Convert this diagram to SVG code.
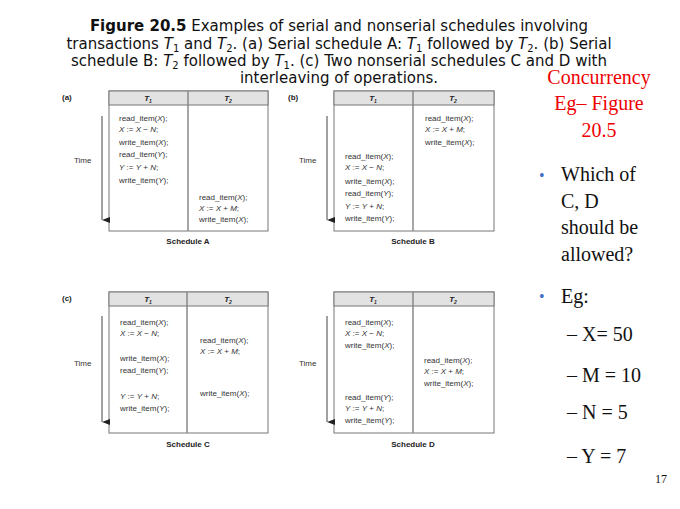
<svg xmlns="http://www.w3.org/2000/svg" width="680" height="509" viewBox="0 0 680 509">
<defs><marker id="ah" viewBox="0 0 6 8" refX="3" refY="8" markerWidth="6" markerHeight="8" orient="auto-start-reverse" markerUnits="userSpaceOnUse"><path d="M0,0 L6,0 L3,8 Z" fill="#222"/></marker></defs>
<style>
.t{font-family:"DejaVu Sans",sans-serif;font-size:15px;fill:#111}
.s{font-family:"Liberation Sans",Arial,sans-serif;font-size:8px;fill:#333}
.h{font-family:"Liberation Sans",Arial,sans-serif;font-size:8px;font-style:italic;font-weight:bold;fill:#222}
.lb{font-family:"Liberation Sans",Arial,sans-serif;font-size:8px;font-weight:bold;fill:#222}
.tb{fill:#fff;stroke:#777;stroke-width:1}
.hd{fill:#e2e2e2;stroke:#777;stroke-width:1}
.d{stroke:#888;stroke-width:1.5}
.r{font-family:"Liberation Serif",serif;font-size:20px;fill:#e00}
.b{font-family:"Liberation Serif",serif;font-size:20px;fill:#111}
</style>
<rect width="680" height="509" fill="#fff"/>
<g id="title" class="t" text-anchor="middle">
<text x="339" y="31"><tspan font-weight="bold">Figure 20.5</tspan>   Examples of serial and nonserial schedules involving</text>
<text x="339" y="49">transactions <tspan font-style="italic">T</tspan><tspan font-size="10" dy="3">1</tspan><tspan dy="-3"> and </tspan><tspan font-style="italic">T</tspan><tspan font-size="10" dy="3">2</tspan><tspan dy="-3">. (a) Serial schedule A: </tspan><tspan font-style="italic">T</tspan><tspan font-size="10" dy="3">1</tspan><tspan dy="-3"> followed by </tspan><tspan font-style="italic">T</tspan><tspan font-size="10" dy="3">2</tspan><tspan dy="-3">. (b) Serial</tspan></text>
<text x="339" y="66">schedule B: <tspan font-style="italic">T</tspan><tspan font-size="10" dy="3">2</tspan><tspan dy="-3"> followed by </tspan><tspan font-style="italic">T</tspan><tspan font-size="10" dy="3">1</tspan><tspan dy="-3">. (c) Two nonserial schedules C and D with</tspan></text>
<text x="339" y="83">interleaving of operations.</text>
</g>
<g id="scheduleA">
<text class="lb" x="62" y="100">(a)</text>
<rect class="tb" x="109" y="91" width="159" height="140"/><rect class="hd" x="109" y="91" width="159" height="14"/>
<line class="d" x1="188" y1="91" x2="188" y2="231"/>
<text class="h" x="148" y="101" text-anchor="middle">T<tspan font-size="5" dy="1.5">1</tspan></text><text class="h" x="228" y="101" text-anchor="middle">T<tspan font-size="5" dy="1.5">2</tspan></text>
<line x1="102" y1="116" x2="102" y2="220" stroke="#444" marker-end="url(#ah)"/>
<text class="s" x="74" y="163">Time</text>
<g class="s"><text x="119" y="121">read_item(<tspan font-style="italic">X</tspan>);</text><text x="119" y="132"><tspan font-style="italic">X</tspan> := <tspan font-style="italic">X</tspan> − <tspan font-style="italic">N</tspan>;</text><text x="119" y="145">write_item(<tspan font-style="italic">X</tspan>);</text><text x="119" y="157">read_item(<tspan font-style="italic">Y</tspan>);</text><text x="119" y="170"><tspan font-style="italic">Y</tspan> := <tspan font-style="italic">Y</tspan> + <tspan font-style="italic">N</tspan>;</text><text x="119" y="183">write_item(<tspan font-style="italic">Y</tspan>);</text>
<text x="199" y="200">read_item(<tspan font-style="italic">X</tspan>);</text><text x="199" y="211"><tspan font-style="italic">X</tspan> := <tspan font-style="italic">X</tspan> + <tspan font-style="italic">M</tspan>;</text><text x="199" y="222">write_item(<tspan font-style="italic">X</tspan>);</text></g>
<text class="lb" x="188" y="244" text-anchor="middle">Schedule A</text>
</g>
<g id="scheduleB">
<text class="lb" x="288" y="100">(b)</text>
<rect class="tb" x="334" y="91" width="160" height="140"/><rect class="hd" x="334" y="91" width="160" height="14"/>
<line class="d" x1="413" y1="91" x2="413" y2="231"/>
<text class="h" x="373" y="101" text-anchor="middle">T<tspan font-size="5" dy="1.5">1</tspan></text><text class="h" x="453" y="101" text-anchor="middle">T<tspan font-size="5" dy="1.5">2</tspan></text>
<line x1="327" y1="116" x2="327" y2="220" stroke="#444" marker-end="url(#ah)"/>
<text class="s" x="299" y="163">Time</text>
<g class="s"><text x="425" y="121">read_item(<tspan font-style="italic">X</tspan>);</text><text x="425" y="132"><tspan font-style="italic">X</tspan> := <tspan font-style="italic">X</tspan> + <tspan font-style="italic">M</tspan>;</text><text x="425" y="145">write_item(<tspan font-style="italic">X</tspan>);</text>
<text x="345" y="159">read_item(<tspan font-style="italic">X</tspan>);</text><text x="345" y="170"><tspan font-style="italic">X</tspan> := <tspan font-style="italic">X</tspan> − <tspan font-style="italic">N</tspan>;</text><text x="345" y="184">write_item(<tspan font-style="italic">X</tspan>);</text><text x="345" y="196">read_item(<tspan font-style="italic">Y</tspan>);</text><text x="345" y="209"><tspan font-style="italic">Y</tspan> := <tspan font-style="italic">Y</tspan> + <tspan font-style="italic">N</tspan>;</text><text x="345" y="221">write_item(<tspan font-style="italic">Y</tspan>);</text></g>
<text class="lb" x="413" y="244" text-anchor="middle">Schedule B</text>
</g>
<g id="scheduleC">
<text class="lb" x="62" y="301">(c)</text>
<rect class="tb" x="109" y="292" width="159" height="141"/><rect class="hd" x="109" y="292" width="159" height="14"/>
<line class="d" x1="187" y1="292" x2="187" y2="433"/>
<text class="h" x="148" y="302" text-anchor="middle">T<tspan font-size="5" dy="1.5">1</tspan></text><text class="h" x="228" y="302" text-anchor="middle">T<tspan font-size="5" dy="1.5">2</tspan></text>
<line x1="102" y1="316" x2="102" y2="422" stroke="#444" marker-end="url(#ah)"/>
<text class="s" x="74" y="366">Time</text>
<g class="s"><text x="120" y="325">read_item(<tspan font-style="italic">X</tspan>);</text><text x="120" y="336"><tspan font-style="italic">X</tspan> := <tspan font-style="italic">X</tspan> − <tspan font-style="italic">N</tspan>;</text><text x="120" y="361">write_item(<tspan font-style="italic">X</tspan>);</text><text x="120" y="373">read_item(<tspan font-style="italic">Y</tspan>);</text><text x="120" y="399"><tspan font-style="italic">Y</tspan> := <tspan font-style="italic">Y</tspan> + <tspan font-style="italic">N</tspan>;</text><text x="120" y="411">write_item(<tspan font-style="italic">Y</tspan>);</text>
<text x="200" y="343">read_item(<tspan font-style="italic">X</tspan>);</text><text x="200" y="354"><tspan font-style="italic">X</tspan> := <tspan font-style="italic">X</tspan> + <tspan font-style="italic">M</tspan>;</text><text x="200" y="396">write_item(<tspan font-style="italic">X</tspan>);</text></g>
<text class="lb" x="188" y="447" text-anchor="middle">Schedule C</text>
</g>
<g id="scheduleD">
<rect class="tb" x="334" y="292" width="160" height="141"/><rect class="hd" x="334" y="292" width="160" height="14"/>
<line class="d" x1="413" y1="292" x2="413" y2="433"/>
<text class="h" x="373" y="302" text-anchor="middle">T<tspan font-size="5" dy="1.5">1</tspan></text><text class="h" x="453" y="302" text-anchor="middle">T<tspan font-size="5" dy="1.5">2</tspan></text>
<line x1="327" y1="316" x2="327" y2="422" stroke="#444" marker-end="url(#ah)"/>
<text class="s" x="299" y="366">Time</text>
<g class="s"><text x="345" y="325">read_item(<tspan font-style="italic">X</tspan>);</text><text x="345" y="336"><tspan font-style="italic">X</tspan> := <tspan font-style="italic">X</tspan> − <tspan font-style="italic">N</tspan>;</text><text x="345" y="348">write_item(<tspan font-style="italic">X</tspan>);</text>
<text x="424" y="363">read_item(<tspan font-style="italic">X</tspan>);</text><text x="424" y="374"><tspan font-style="italic">X</tspan> := <tspan font-style="italic">X</tspan> + <tspan font-style="italic">M</tspan>;</text><text x="424" y="386">write_item(<tspan font-style="italic">X</tspan>);</text>
<text x="345" y="400">read_item(<tspan font-style="italic">Y</tspan>);</text><text x="345" y="411"><tspan font-style="italic">Y</tspan> := <tspan font-style="italic">Y</tspan> + <tspan font-style="italic">N</tspan>;</text><text x="345" y="423">write_item(<tspan font-style="italic">Y</tspan>);</text></g>
<text class="lb" x="413" y="447" text-anchor="middle">Schedule D</text>
</g>
<g id="side">
<g class="r" text-anchor="middle"><text x="599" y="84">Concurrency</text><text x="599" y="110">Eg– Figure</text><text x="599" y="137">20.5</text></g>
<g class="b"><text x="539" y="181" fill="#4472c4" font-size="16">•</text><text x="561" y="181">Which of</text><text x="561" y="208">C, D</text><text x="561" y="234">should be</text><text x="561" y="261">allowed?</text>
<text x="539" y="302" fill="#4472c4" font-size="16">•</text><text x="561" y="303">Eg:</text>
<text x="567" y="341">– X= 50</text><text x="567" y="382">– M = 10</text><text x="567" y="419">– N = 5</text><text x="567" y="463">– Y = 7</text>
<text x="667" y="483" font-size="12" text-anchor="end">17</text></g>
</g>
</svg>
